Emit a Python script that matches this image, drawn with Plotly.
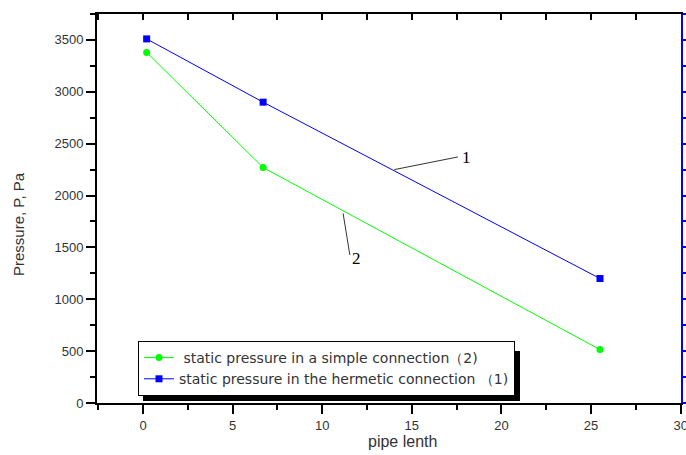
import plotly.graph_objects as go

# Data
pipe_length = [0.2, 6.7, 25.5]
p_simple = [3380, 2270, 515]      # curve 2
p_hermetic = [3510, 2900, 1200]   # curve 1
name_simple = " static pressure in a simple connection（2)"
name_hermetic = "static pressure in the hermetic connection （1)"
x_ticks = [0, 5, 10, 15, 20, 25, 30]
y_ticks = [0, 500, 1000, 1500, 2000, 2500, 3000, 3500]
x_title = "pipe lenth"
y_title = "Pressure, P, Pa"

W, H = 686, 455
L, R, T, B = 97, 5, 14, 52
xr = [-2.57, 30.02]
yr = [0, 3750]
pw, ph = W - L - R, H - T - B
def px(xpix): return (xpix - L) / pw
def py(ypix): return (H - B - ypix) / ph

fig = go.Figure()
fig.add_trace(go.Scatter(x=pipe_length, y=p_simple, mode="lines+markers", name=name_simple,
                         line=dict(color="#00ff00", width=1),
                         marker=dict(symbol="circle", size=7, color="#00ff00")))
fig.add_trace(go.Scatter(x=pipe_length, y=p_hermetic, mode="lines+markers", name=name_hermetic,
                         line=dict(color="#0000ff", width=1),
                         marker=dict(symbol="square", size=7, color="#0000ff")))
fig.add_trace(go.Scatter(x=[None], y=[None], xaxis="x2", yaxis="y2", showlegend=False))

tickfont = dict(family="Arial", size=13, color="#333333")
fig.update_layout(
    width=W, height=H,
    margin=dict(l=L, r=R, t=T, b=B, autoexpand=False),
    paper_bgcolor="white", plot_bgcolor="white",
    font=dict(family="Arial", size=12, color="#333333"),
    showlegend=True,
    legend=dict(x=px(138), y=py(396), xanchor="left", yanchor="bottom",
                bgcolor="white", bordercolor="black", borderwidth=1,
                font=dict(family="DejaVu Sans", size=14, color="#333333"),
                tracegroupgap=0, itemwidth=30),
    xaxis=dict(range=xr, tickvals=x_ticks, ticktext=[str(v) for v in x_ticks], automargin=False,
               ticklabeloverflow="allow",
               showgrid=False, zeroline=False, showline=True, linecolor="black", linewidth=2,
               ticks="outside", ticklen=9, tickwidth=2, tickcolor="black", tickfont=tickfont,
               minor=dict(dtick=2.5, tick0=0, ticks="outside", ticklen=5, tickwidth=2, tickcolor="black")),
    yaxis=dict(range=yr, tickvals=y_ticks, ticktext=[str(v) for v in y_ticks], automargin=False,
               showgrid=False, zeroline=False, showline=True, linecolor="black", linewidth=2,
               ticks="outside", ticklen=9, tickwidth=2, tickcolor="black", tickfont=tickfont,
               minor=dict(dtick=250, tick0=0, ticks="outside", ticklen=5, tickwidth=2, tickcolor="black")),
    xaxis2=dict(range=xr, overlaying="x", side="top", anchor="y", showgrid=False, zeroline=False,
                showline=True, linecolor="black", linewidth=2, showticklabels=False, automargin=False,
                tick0=0, dtick=2.5,
                ticks="inside", ticklen=6, tickwidth=2, tickcolor="black"),
    yaxis2=dict(range=yr, overlaying="y", side="right", anchor="x", showgrid=False, zeroline=False,
                showline=True, linecolor="#0000ff", linewidth=2, showticklabels=False, automargin=False,
                dtick=250, tick0=0, ticks="outside", ticklen=5, tickwidth=2, tickcolor="#0000ff"),
)

# axis titles
fig.add_annotation(x=px(402), y=py(441), xref="paper", yref="paper", text=x_title, showarrow=False,
                   xanchor="center", yanchor="middle", font=dict(family="Arial", size=16, color="#333333"))
fig.add_annotation(x=px(18), y=py(224), xref="paper", yref="paper", text=y_title, showarrow=False,
                   textangle=-90, xanchor="center", yanchor="middle",
                   font=dict(family="Arial", size=15, color="#333333"))

# leader lines and labels
fig.add_annotation(x=17.57, y=2372, ax=13.94, ay=2247, axref="x", ayref="y", xref="x", yref="y",
                   text="", showarrow=True, arrowhead=0, arrowwidth=1, arrowcolor="#333333")
fig.add_annotation(x=17.7, y=2362, xref="x", yref="y", text="1", showarrow=False,
                   xanchor="left", font=dict(family="Liberation Serif", size=17, color="black"))
fig.add_annotation(x=11.54, y=1427, ax=11.15, ay=1842, axref="x", ayref="y", xref="x", yref="y",
                   text="", showarrow=True, arrowhead=0, arrowwidth=1, arrowcolor="#333333")
fig.add_annotation(x=11.55, y=1390, xref="x", yref="y", text="2", showarrow=False,
                   xanchor="left", font=dict(family="Liberation Serif", size=17, color="black"))

# legend shadow
fig.add_shape(type="rect", xref="paper", yref="paper", layer="below",
              x0=px(143), x1=px(520), y0=py(401), y1=py(351),
              fillcolor="black", line=dict(width=0))

fig.write_html("out.html", config={"displayModeBar": False},
               post_script="document.body.style.margin='0';document.body.style.padding='0';")
